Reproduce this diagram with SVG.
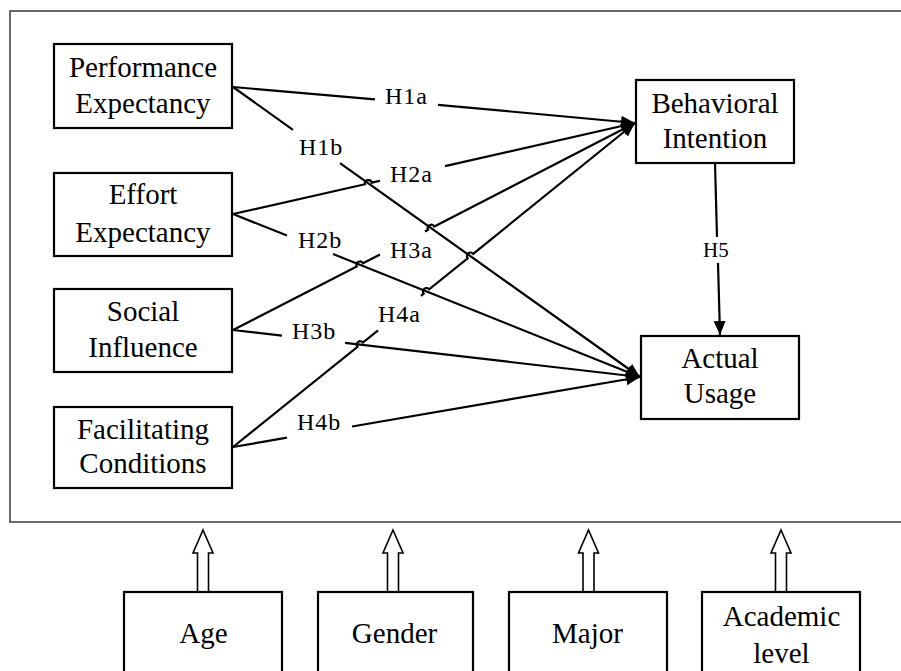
<svg xmlns="http://www.w3.org/2000/svg" width="901" height="671" viewBox="0 0 901 671">
<defs>
<style>
.box{fill:#fff;stroke:#000;stroke-width:2.2}
.t{font-family:"Liberation Serif","Times New Roman",serif;font-size:29px;fill:#000;text-anchor:middle}
.h{font-family:"Liberation Serif","Times New Roman",serif;font-size:24px;fill:#000;letter-spacing:1px}
.ln{fill:none;stroke:#000;stroke-width:2.2}
.hol{fill:#fff;stroke:#000;stroke-width:1.6;stroke-linejoin:miter}
</style>
<marker id="ah" markerUnits="userSpaceOnUse" markerWidth="16" markerHeight="14" refX="14" refY="6" orient="auto">
<path d="M0,0 L14,6 L0,12 z" fill="#000"/>
</marker>
</defs>
<rect width="901" height="671" fill="#fff"/>
<rect id="frame" x="10" y="11" width="900" height="511" fill="none" stroke="#444" stroke-width="1.6"/>

<g id="connectors">
<path class="ln" d="M233,87 L375,99.3"/>
<path class="ln" d="M438,104.8 L635,123" marker-end="url(#ah)"/>
<path class="ln" d="M233,87 L293,129.8"/>
<path class="ln" d="M340,163.2 L640,377" marker-end="url(#ah)"/>
<path class="ln" d="M233,214 L364.94,184.21 A3.5 3.5 0 0 1 371.76,182.67 L380,180.8"/>
<path class="ln" d="M445,166.1 L635,123" marker-end="url(#ah)"/>
<path class="ln" d="M233,214 L287,235.6"/>
<path class="ln" d="M333,254 L640,377" marker-end="url(#ah)"/>
<path class="ln" d="M233,330 L356.79,266.4 A3.5 3.5 0 0 1 363.01,263.2 L380,254.5"/>
<path class="ln" d="M425,231.4 L428.07,229.8 A3.5 3.5 0 0 1 434.29,226.6 L635,123" marker-end="url(#ah)"/>
<path class="ln" d="M233,330 L282,335.7"/>
<path class="ln" d="M345,342.9 L640,377" marker-end="url(#ah)"/>
<path class="ln" d="M233,447 L357.52,346.88 A3.5 3.5 0 0 1 362.98,342.5 L378,330.4"/>
<path class="ln" d="M421,295.9 L423.72,293.69 A3.5 3.5 0 0 1 429.18,289.31 L467.67,258.29 A3.5 3.5 0 0 1 473.13,253.91 L635,123" marker-end="url(#ah)"/>
<path class="ln" d="M233,447 L287,437.7"/>
<path class="ln" d="M352,426.5 L640,377" marker-end="url(#ah)"/>
<path class="ln" d="M715,163 L717,237"/>
<path class="ln" d="M718,263 L720,335" marker-end="url(#ah)"/>
<text class="h" x="385" y="104">H1a</text>
<text class="h" x="299" y="155">H1b</text>
<text class="h" x="390" y="182">H2a</text>
<text class="h" x="298" y="248">H2b</text>
<text class="h" x="390" y="258">H3a</text>
<text class="h" x="292" y="339">H3b</text>
<text class="h" x="378" y="322">H4a</text>
<text class="h" x="297" y="430">H4b</text>
<text class="h" x="703" y="257" style="font-size:21px;letter-spacing:0">H5</text>
<polygon class="hol" points="203,530 213,553 208.5,553 208.5,592 197.5,592 197.5,553 193,553"/>
<polygon class="hol" points="393,530 403,553 398.5,553 398.5,592 387.5,592 387.5,553 383,553"/>
<polygon class="hol" points="588.5,530 598.5,553 594,553 594,592 583,592 583,553 578.5,553"/>
<polygon class="hol" points="781,530 791,553 786.5,553 786.5,592 775.5,592 775.5,553 771,553"/>
</g>

<g id="performance-expectancy">
<rect class="box" x="54" y="44" width="178" height="84"/>
<text class="t" x="143" y="77">Performance</text>
<text class="t" x="143" y="113">Expectancy</text>
</g>
<g id="effort-expectancy">
<rect class="box" x="54" y="173" width="178" height="83"/>
<text class="t" x="143" y="204">Effort</text>
<text class="t" x="143" y="242">Expectancy</text>
</g>
<g id="social-influence">
<rect class="box" x="54" y="289" width="178" height="83"/>
<text class="t" x="143" y="321">Social</text>
<text class="t" x="143" y="357">Influence</text>
</g>
<g id="facilitating-conditions">
<rect class="box" x="54" y="407" width="178" height="81"/>
<text class="t" x="143" y="439">Facilitating</text>
<text class="t" x="143" y="473">Conditions</text>
</g>
<g id="behavioral-intention">
<rect class="box" x="636" y="80" width="158" height="83"/>
<text class="t" x="715" y="113">Behavioral</text>
<text class="t" x="715" y="148">Intention</text>
</g>
<g id="actual-usage">
<rect class="box" x="641" y="336" width="158" height="83"/>
<text class="t" x="720" y="368">Actual</text>
<text class="t" x="720" y="403">Usage</text>
</g>
<g id="age">
<rect class="box" x="124" y="592" width="158" height="100"/>
<text class="t" x="203.5" y="643">Age</text>
</g>
<g id="gender">
<rect class="box" x="318" y="592" width="155" height="100"/>
<text class="t" x="394.5" y="643">Gender</text>
</g>
<g id="major">
<rect class="box" x="509" y="592" width="158" height="100"/>
<text class="t" x="587.5" y="643">Major</text>
</g>
<g id="academic-level">
<rect class="box" x="702" y="592" width="158" height="100"/>
<text class="t" x="781.5" y="626">Academic</text>
<text class="t" x="781.5" y="663">level</text>
</g>
</svg>
